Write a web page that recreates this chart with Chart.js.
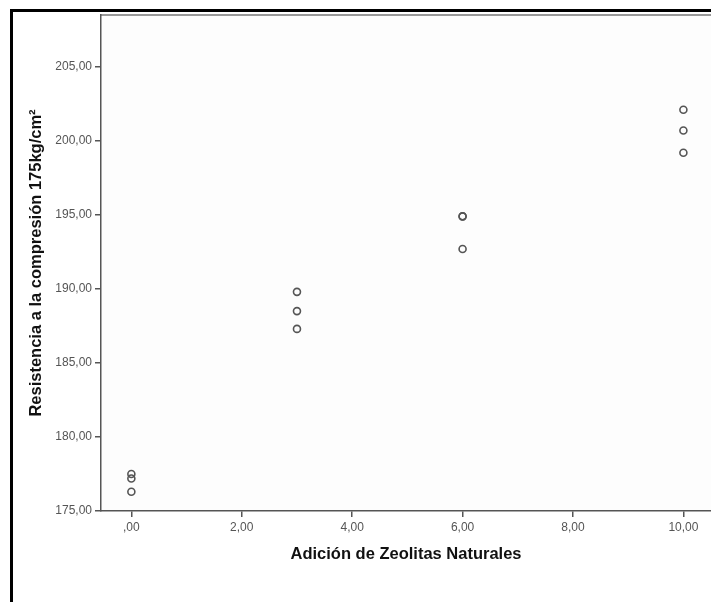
<!DOCTYPE html>
<html>
<head>
<meta charset="utf-8">
<script src="https://cdn.jsdelivr.net/npm/chart.js@4"></script>
<style>
  html, body { margin: 0; padding: 0; background: #fff; overflow: hidden; }
  #frame { position: absolute; left: 10px; top: 9px; width: 800px; height: 700px;
           border-left: 3px solid #000; border-top: 3px solid #000; }
  #wrap { position: absolute; left: 0; top: 0; width: 711px; height: 602px; }
</style>
</head>
<body>
<div id="frame"></div>
<div id="wrap"><canvas id="scatterChart" width="711" height="602"></canvas></div>
<script>
// Adición de zeolitas (x) vs resistencia a la compresión (y)
const adicion = [0, 0, 0, 3, 3, 3, 6, 6, 6, 10, 10, 10];
const resistencia = [177.5, 177.2, 176.3, 189.8, 188.5, 187.3, 194.9, 194.9, 192.7, 202.1, 200.7, 199.2];

const xTicks = [0, 2, 4, 6, 8, 10];
const xTickLabels = [',00', '2,00', '4,00', '6,00', '8,00', '10,00'];
const yTicks = [175, 180, 185, 190, 195, 200, 205];
const yTickLabels = ['175,00', '180,00', '185,00', '190,00', '195,00', '200,00', '205,00'];

const axisColor = '#555';

// top edge of the plot box
const topBorder = {
  id: 'topBorder',
  beforeDraw(chart) {
    const { ctx, chartArea } = chart;
    ctx.save();
    ctx.fillStyle = '#fdfdfd';
    ctx.fillRect(chartArea.left, chartArea.top, chartArea.right - chartArea.left, chartArea.bottom - chartArea.top);
    ctx.strokeStyle = '#777';
    ctx.lineWidth = 1.5;
    ctx.beginPath();
    ctx.moveTo(chartArea.left, chartArea.top);
    ctx.lineTo(chartArea.right, chartArea.top);
    ctx.stroke();
    ctx.restore();
  }
};

const ctx = document.getElementById('scatterChart').getContext('2d');
new Chart(ctx, {
  type: 'scatter',
  data: {
    datasets: [{
      data: adicion.map((x, i) => ({ x, y: resistencia[i] })),
      pointRadius: 3.5,
      pointBorderWidth: 1.6,
      pointBorderColor: '#555',
      pointBackgroundColor: 'rgba(255,255,255,0)'
    }]
  },
  options: {
    responsive: false,
    animation: false,
    layout: { autoPadding: false, padding: { top: 15, left: 0, right: 0, bottom: 0 } },
    plugins: { legend: { display: false }, tooltip: { enabled: false } },
    scales: {
      x: {
        type: 'linear',
        min: -0.55,
        max: 10.5,
        afterBuildTicks: scale => { scale.ticks = xTicks.map(v => ({ value: v })); },
        afterFit: scale => { scale.height = 91; scale.paddingLeft = 0; scale.paddingRight = 0; },
        ticks: {
          color: '#555',
          padding: 3,
          font: { family: 'Liberation Sans, Arial', size: 12 },
          callback: v => xTickLabels[xTicks.indexOf(v)]
        },
        grid: { drawOnChartArea: false, drawTicks: true, tickLength: 6, color: axisColor, lineWidth: 1.5 },
        border: { display: true, color: axisColor, width: 1.5 },
        title: {
          display: true,
          text: 'Adición de Zeolitas Naturales',
          color: '#111',
          font: { family: 'Liberation Sans, Arial', size: 16.5, weight: 'bold' },
          padding: { top: 0, bottom: 38 }
        }
      },
      y: {
        min: 175,
        max: 208.5,
        afterBuildTicks: scale => { scale.ticks = yTicks.map(v => ({ value: v })); },
        afterFit: scale => { scale.width = 101; },
        ticks: {
          color: '#555',
          padding: 3,
          font: { family: 'Liberation Sans, Arial', size: 12 },
          callback: v => yTickLabels[yTicks.indexOf(v)]
        },
        grid: { drawOnChartArea: false, drawTicks: true, tickLength: 6, color: axisColor, lineWidth: 1.5 },
        border: { display: true, color: axisColor, width: 1.5 },
        title: {
          display: true,
          text: 'Resistencia a la compresión 175kg/cm²',
          color: '#111',
          font: { family: 'Liberation Sans, Arial', size: 16.5, weight: 'bold' },
          padding: { top: 27, bottom: 0 }
        }
      }
    }
  },
  plugins: [topBorder]
});
</script>
</body>
</html>
